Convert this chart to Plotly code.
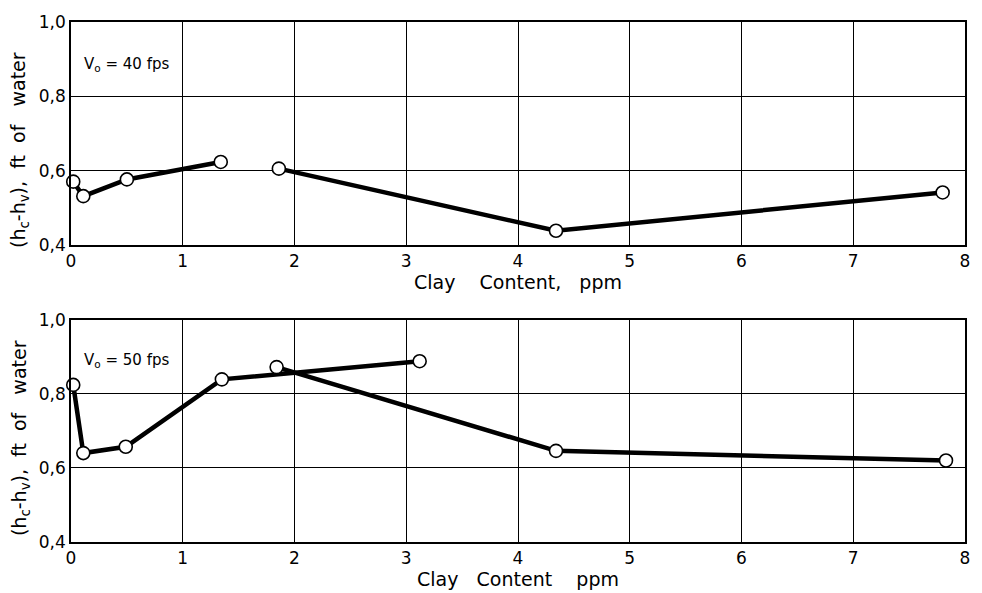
import plotly.graph_objects as go

# ---- data ----
x_ticks = [0, 1, 2, 3, 4, 5, 6, 7, 8]
x_tick_labels = ["0", "1", "2", "3", "4", "5", "6", "7", "8"]
y_ticks = [0.4, 0.6, 0.8, 1.0]
y_tick_labels = ["0,4", "0,6", "0,8", "1,0"]

top_x = [0.02, 0.11, 0.50, 1.34, 1.86, 4.34, 7.80]
top_y = [0.571, 0.532, 0.577, 0.624, 0.606, 0.439, 0.542]
top_segments = [[0, 1, 2, 3], [4, 5, 6]]

bot_x = [0.02, 0.11, 0.49, 1.35, 1.84, 3.12, 4.34, 7.83]
bot_y = [0.824, 0.640, 0.657, 0.839, 0.872, 0.888, 0.646, 0.620]
bot_segments = [[0, 1, 2, 3, 5], [4, 6, 7]]

top_label = "V<sub>o</sub> = 40 fps"
bot_label = "V<sub>o</sub> = 50 fps"
NB = "\u00a0"
x_title_top = f"Clay{NB*4}Content,{NB*3}ppm"
x_title_bot = f"Clay{NB*3}Content{NB*4}ppm"
y_title = f"(h<sub>c</sub>-h<sub>v</sub>),{NB*2}ft{NB*2}of{NB*3}water"

FONT = "DejaVu Sans, sans-serif"

fig = go.Figure()

def add_panel(xs, ys, segs, xa, ya):
    for seg in segs:
        fig.add_trace(go.Scatter(
            x=[xs[i] for i in seg], y=[ys[i] for i in seg],
            mode="lines", line=dict(color="black", width=4.5),
            xaxis=xa, yaxis=ya, showlegend=False, hoverinfo="skip",
            cliponaxis=False))
    fig.add_trace(go.Scatter(
        x=xs, y=ys, mode="markers",
        marker=dict(size=13, color="white", line=dict(color="black", width=1.6)),
        xaxis=xa, yaxis=ya, showlegend=False, cliponaxis=False))

add_panel(top_x, top_y, top_segments, "x", "y")
add_panel(bot_x, bot_y, bot_segments, "x2", "y2")

axis_common = dict(showline=True, linecolor="black", linewidth=1.5, mirror=True,
                   showgrid=True, gridcolor="black", gridwidth=1, zeroline=False,
                   ticks="", tickfont=dict(family=FONT, size=17, color="black"))

xcommon = dict(axis_common, range=[0, 8], tickvals=x_ticks, ticktext=x_tick_labels)
ycommon = dict(axis_common, range=[0.4, 1.0], tickvals=y_ticks, ticktext=y_tick_labels)

TF = dict(family=FONT, size=19, color="black")

fig.update_layout(
    width=982, height=593,
    margin=dict(l=71, r=14, t=17, b=45),
    plot_bgcolor="white", paper_bgcolor="white",
    font=dict(family=FONT, color="black"),
    xaxis=dict(xcommon, domain=[0, 1], anchor="y",
               title=dict(text=x_title_top, font=TF, standoff=0)),
    yaxis=dict(ycommon, domain=[0.5706, 1.0], anchor="x"),
    xaxis2=dict(xcommon, domain=[0, 1], anchor="y2",
                title=dict(text=x_title_bot, font=TF, standoff=0)),
    yaxis2=dict(ycommon, domain=[0, 0.4275], anchor="x2"),
    annotations=[
        dict(text=top_label, x=0.1, y=0.885, xref="x", yref="y", xanchor="left",
             yanchor="middle", showarrow=False, font=dict(family=FONT, size=15, color="black")),
        dict(text=bot_label, x=0.1, y=0.89, xref="x2", yref="y2", xanchor="left",
             yanchor="middle", showarrow=False, font=dict(family=FONT, size=15, color="black")),
        dict(text=y_title, x=-0.057, y=0.754, xref="paper", yref="paper", textangle=-90,
             xanchor="center", yanchor="middle", showarrow=False, font=TF),
        dict(text=y_title, x=-0.057, y=0.2, xref="paper", yref="paper", textangle=-90,
             xanchor="center", yanchor="middle", showarrow=False, font=TF),
    ],
)

fig.write_html("out.html")
